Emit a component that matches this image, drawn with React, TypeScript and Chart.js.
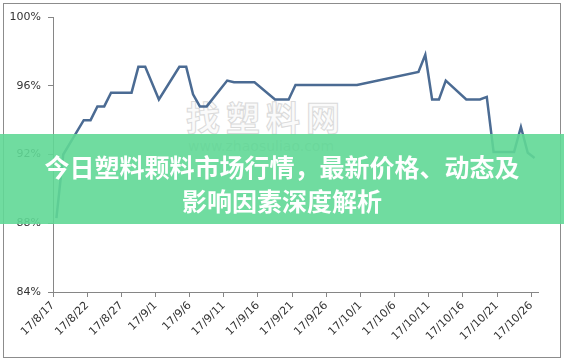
import React, { useEffect, useRef } from "react";
import { Chart, registerables } from "chart.js";

Chart.register(...registerables);

// Trading dates (2017, month/day) and the quoted rate in percent.
const dates = [
  "8/17", "8/18", "8/21", "8/22", "8/23", "8/24", "8/25", "8/28", "8/29", "8/30",
  "9/1", "9/4", "9/5", "9/6", "9/7", "9/8", "9/11", "9/12", "9/13", "9/14",
  "9/15", "9/18", "9/19", "9/20", "9/21", "9/22", "9/25", "9/26", "9/27", "9/28",
  "9/29", "9/30", "10/9", "10/10", "10/11", "10/12", "10/13", "10/16", "10/17", "10/18",
  "10/19", "10/20", "10/23", "10/24", "10/25", "10/26",
];
const rates = [
  88.3, 92.0, 94.0, 94.0, 94.8, 94.8, 95.6, 95.6, 97.1, 97.1,
  95.2, 97.1, 97.1, 95.5, 94.8, 94.8, 96.3, 96.2, 96.2, 96.2,
  96.2, 95.2, 95.2, 95.2, 96.05, 96.05, 96.05, 96.05, 96.05, 96.05,
  96.05, 96.05, 96.8, 97.8, 95.2, 95.2, 96.3, 95.2, 95.2, 95.2,
  95.35, 92.15, 92.15, 93.6, 92.1, 91.8,
];

// Date-axis labels, one every five days.
const tickLabels = [
  "17/8/17", "17/8/22", "17/8/27", "17/9/1", "17/9/6", "17/9/11", "17/9/16", "17/9/21",
  "17/9/26", "17/10/1", "17/10/6", "17/10/11", "17/10/16", "17/10/21", "17/10/26",
];
const yTicks = [84, 88, 92, 96, 100];

const TITLE_LINE_1 = "今日塑料颗料市场行情，最新价格、动态及";
const TITLE_LINE_2 = "影响因素深度解析";

const DAY_MS = 86400000;
const firstDay = Date.UTC(2017, 7, 17);
const dayIndex = (md: string) => {
  const [m, d] = md.split("/").map(Number);
  return Math.round((Date.UTC(2017, m - 1, d) - firstDay) / DAY_MS);
};

const AXIS_GRAY = "#868686";
const LABEL_FONT = { family: "'DejaVu Sans', sans-serif", size: 11 };

export default function App() {
  const canvasRef = useRef<HTMLCanvasElement | null>(null);

  useEffect(() => {
    const canvas = canvasRef.current;
    if (!canvas) return;
    const points = dates.map((d, i) => ({ x: dayIndex(d), y: rates[i] }));
    const chart = new Chart(canvas, {
      type: "line",
      data: {
        datasets: [
          {
            data: points,
            borderColor: "#4b6b93",
            borderWidth: 2.5,
            pointRadius: 0,
            tension: 0,
            fill: false,
          },
        ],
      },
      options: {
        animation: false,
        responsive: false,
        maintainAspectRatio: false,
        layout: { padding: { top: 17, right: 26, left: 0, bottom: 0 } },
        plugins: { legend: { display: false }, tooltip: { enabled: false } },
        scales: {
          x: {
            type: "linear",
            min: -0.5,
            max: tickLabels.length * 5 - 4.5,
            afterBuildTicks: (s: any) => {
              s.ticks = tickLabels.map((_, i) => ({ value: -0.5 + 5 * i }));
            },
            afterFit: (s: any) => {
              s.height = 68;
            },
            ticks: {
              autoSkip: false,
              minRotation: 45,
              maxRotation: 45,
              padding: 2,
              color: "#333",
              font: LABEL_FONT,
              callback: (_v: any, i: number) => tickLabels[i],
            },
            grid: { drawOnChartArea: false, drawTicks: true, tickLength: 5, color: AXIS_GRAY },
            border: { color: AXIS_GRAY, width: 1 },
          },
          y: {
            min: 84,
            max: 100,
            afterBuildTicks: (s: any) => {
              s.ticks = yTicks.map((v) => ({ value: v }));
            },
            afterFit: (s: any) => {
              s.width = 53;
            },
            ticks: {
              padding: 7,
              color: "#333",
              font: LABEL_FONT,
              callback: (v: any) => `${v}%`,
            },
            grid: { drawOnChartArea: false, drawTicks: true, tickLength: 5, color: AXIS_GRAY },
            border: { color: AXIS_GRAY, width: 1 },
          },
        },
      },
    });
    return () => chart.destroy();
  }, []);

  return (
    <div
      style={{
        position: "fixed",
        left: 0,
        top: 0,
        width: 564,
        height: 360,
        background: "#fff",
        overflow: "hidden",
      }}
    >
      <div
        style={{
          position: "absolute",
          left: 3,
          top: 3,
          width: 558,
          height: 355,
          boxSizing: "border-box",
          border: "1px solid #8c8c8c",
        }}
      />
      <div
        style={{
          position: "absolute",
          left: 186,
          top: 97,
          fontFamily: "'Noto Sans CJK SC', sans-serif",
          fontWeight: 700,
          fontSize: 34,
          lineHeight: "40px",
          letterSpacing: 6,
          color: "#fafafa",
          WebkitTextStroke: "1px #dadada",
          whiteSpace: "nowrap",
        }}
      >
        找塑料网
      </div>
      <div
        style={{
          position: "absolute",
          left: 188,
          top: 137,
          fontFamily: "'DejaVu Sans', sans-serif",
          fontSize: 14,
          lineHeight: "18px",
          color: "#cccccc",
          whiteSpace: "nowrap",
        }}
      >
        www.zhaosuliao.com
      </div>
      <canvas
        ref={canvasRef}
        width={564}
        height={360}
        style={{ position: "absolute", left: 0, top: 0, width: 564, height: 360 }}
      />
      <div
        style={{
          position: "absolute",
          left: 0,
          top: 134,
          width: 564,
          height: 90,
          background: "rgba(96, 216, 150, 0.9)",
          boxSizing: "border-box",
          paddingTop: 15,
          textAlign: "center",
          color: "#fff",
          fontFamily: "'Noto Sans CJK SC', sans-serif",
          fontWeight: 700,
          fontSize: 25,
          lineHeight: "34px",
          whiteSpace: "nowrap",
        }}
      >
        <div>{TITLE_LINE_1}</div>
        <div>{TITLE_LINE_2}</div>
      </div>
    </div>
  );
}
